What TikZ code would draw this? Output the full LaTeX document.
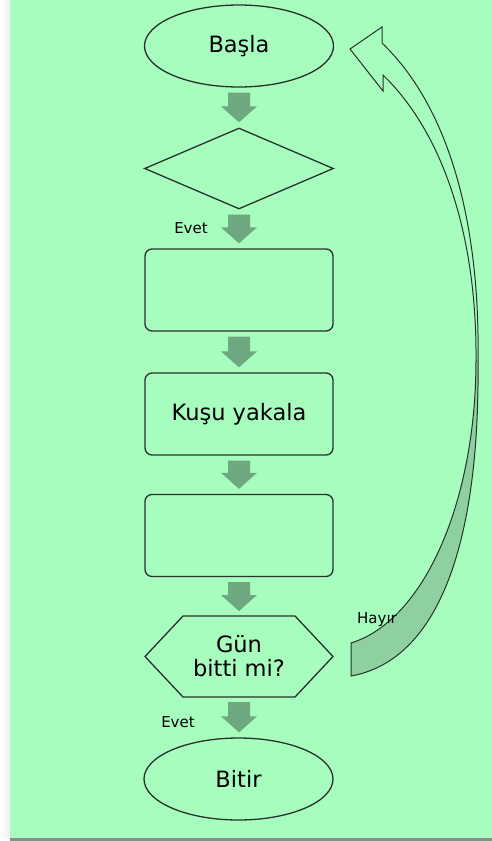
\documentclass[tikz,border=0pt]{standalone}
\usepackage{fontspec}
\setmainfont{DejaVu Sans}
\usetikzlibrary{shapes.geometric,calc}
\definecolor{panel}{RGB}{166,253,190}
\definecolor{flowgreen}{RGB}{110,168,128}
\definecolor{bandgreen}{RGB}{142,208,160}
\definecolor{edge}{RGB}{40,50,43}

% downward block arrow between two stacked nodes
\newcommand\flowarrow[2]{%
  \fill[flowgreen] let \p1=(#1.south), \p2=(#2.north) in
    (\x1-11pt,\y1-5pt) -- (\x1+11pt,\y1-5pt) -- (\x1+11pt,\y2+21pt) --
    (\x1+18pt,\y2+21pt) -- (\x1,\y2+5pt) -- (\x1-18pt,\y2+21pt) --
    (\x1-11pt,\y2+21pt) -- cycle;}

\begin{document}
\begin{tikzpicture}[x=1pt,y=-1pt,
  outline/.style={draw=edge, line width=1.3pt},
  bigtext/.style={font=\fontsize{22.5}{24}\selectfont},
  term/.style={outline, ellipse, minimum width=189pt, minimum height=82pt,
    inner sep=0pt, bigtext},
  decision/.style={outline, diamond, minimum width=189pt, minimum height=81pt,
    inner sep=0pt},
  stepbox/.style={outline, rectangle, rounded corners=7pt, minimum width=188pt,
    minimum height=82pt, inner sep=0pt, bigtext},
  lbl/.style={font=\fontsize{15}{17}\selectfont, inner sep=0pt, anchor=base}]

% page and panel
\useasboundingbox (0,0) rectangle (492,841);
\fill[white] (0,0) rectangle (492,841);
\shade[left color=white, right color=black!6] (0,0) rectangle (10,838);
\fill[panel] (10,0) rectangle (492,838);
\fill[black!45] (10,838) rectangle (492,841);

% flow nodes
\node[term] (start) at (239,46) {Başla};
\node[decision] (check) at (239,168.5) {};
\node[stepbox] (box1) at (239,290) {};
\node[stepbox] (box2) at (239,414) {Kuşu yakala};
\node[stepbox] (box3) at (239,535.5) {};
\node[bigtext, align=center, minimum width=188pt, minimum height=81pt,
  inner sep=0pt, outer sep=0pt] (hex) at (239,656.5) {Gün\\bitti mi?};
\draw[outline] (hex.west) -- ($(hex.north west)+(38,0)$) --
  ($(hex.north east)+(-38,0)$) -- (hex.east) --
  ($(hex.south east)+(-38,0)$) -- ($(hex.south west)+(38,0)$) -- cycle;
\node[term] (finish) at (238.5,779) {Bitir};

% block arrows
\flowarrow{start}{check}
\flowarrow{check}{box1}
\flowarrow{box1}{box2}
\flowarrow{box2}{box3}
\flowarrow{box3}{hex}
\flowarrow{hex}{finish}

% curved return arrow from the decision back to the start
\fill[bandgreen] (351,643) .. controls (425,620) and (476,500) .. (476,360)
  -- (478,360) .. controls (480,540) and (440,660) .. (351,676) -- cycle;
\draw[outline, line width=1pt] (351,676) .. controls (440,660) and (480,540) .. (478,360)
  .. controls (480,230) and (452,110) .. (382,43) -- (382,27) -- (350,49)
  -- (383,91) -- (383,75) .. controls (445,135) and (477,240) .. (476,360)
  .. controls (476,500) and (425,620) .. (351,643) -- cycle;

% labels
\node[lbl] (yes1) at (191,233) {Evet};
\node[lbl] (yes2) at (178,727) {Evet};
\node[lbl] (no) at (377,623) {Hayır};
\end{tikzpicture}
\end{document}
